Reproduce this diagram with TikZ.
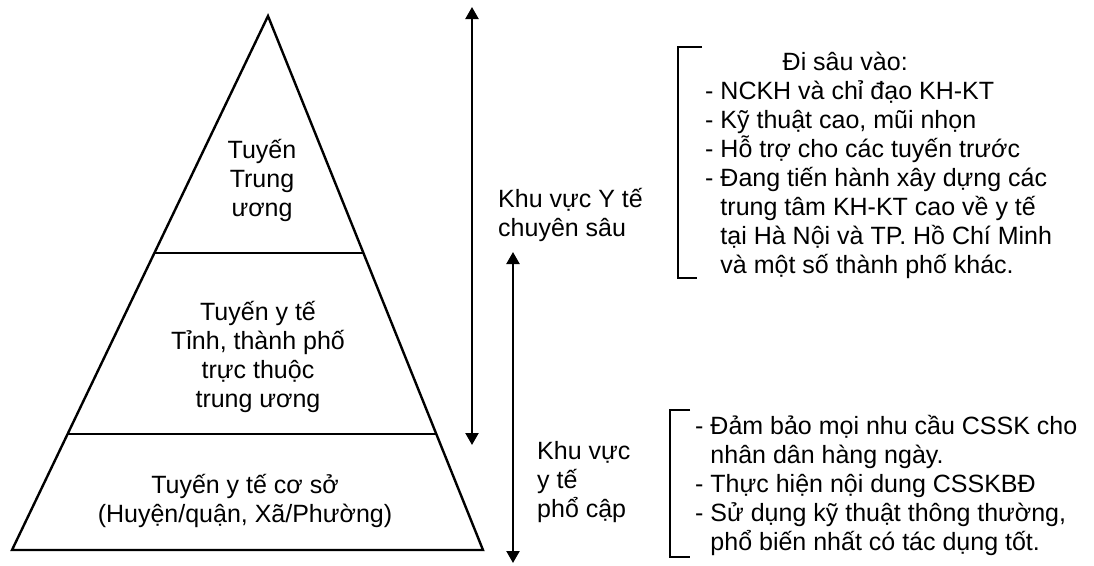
\documentclass[tikz,border=0pt]{standalone}
\usepackage{fontspec}
\setmainfont{Liberation Sans}
\usetikzlibrary{arrows.meta,calc}

\begin{document}
\begin{tikzpicture}[x=1pt,y=-1pt]
  \tikzset{txt/.style={font=\fontsize{25}{29}\selectfont,align=center,inner sep=0pt},
    lst/.style={txt,align=left,anchor=west},
    span/.style={{Triangle[length=12pt,width=13pt]}-{Triangle[length=12pt,width=13pt]},line width=2.2pt},
    brak/.style={line width=2pt}}
  \useasboundingbox (0,0) rectangle (1094,565);
  % the pyramid
  \coordinate (apex) at (268,16);
  \coordinate (bl) at (12,550);
  \coordinate (br) at (483,550);
  \draw[line width=2.4pt,line join=miter] (apex) -- (bl) -- (br) -- cycle;
  \foreach \f in {.4438,.7828}
    \draw[line width=2.4pt] ($(apex)!\f!(bl)$) -- ($(apex)!\f!(br)$);
  \node[txt] (tw) at (262,180) {Tuyến\\Trung\\ương};
  \node[txt] (tinh) at (258,357) {Tuyến y tế\\Tỉnh, thành phố\\trực thuộc\\trung ương};
  \node[txt] (coso) at (245,501) {Tuyến y tế cơ sở\\(Huyện/quận, Xã/Phường)};
  % the two ranges
  \coordinate (s1) at (472,7);  \coordinate (e1) at (472,445);
  \coordinate (s2) at (513,252); \coordinate (e2) at (513,563);
  \draw[span] (s1) -- (e1);
  \draw[span] (s2) -- (e2);
  \node[lst] (sau) at (498,215) {Khu vực Y tế\\chuyên sâu};
  \node[lst] (pho) at (537,482) {Khu vực\\y tế\\phổ cập};
  % brackets and lists
  \draw[brak] (702,47) -- (678,47) -- (678,278) -- (697,278);
  \draw[brak] (690,410) -- (670,410) -- (670,557) -- (690,557);
  \node[lst] (ds) at (705,165) {\hspace*{3.1em}Đi sâu vào:\\
    - NCKH và chỉ đạo KH-KT\\
    - Kỹ thuật cao, mũi nhọn\\
    - Hỗ trợ cho các tuyến trước\\
    - Đang tiến hành xây dựng các\\
    \hphantom{- }trung tâm KH-KT cao về y tế\\
    \hphantom{- }tại Hà Nội và TP. Hồ Chí Minh\\
    \hphantom{- }và một số thành phố khác.};
  \node[lst] (pc) at (695,485) {- Đảm bảo mọi nhu cầu CSSK cho\\
    \hphantom{- }nhân dân hàng ngày.\\
    - Thực hiện nội dung CSSKBĐ\\
    - Sử dụng kỹ thuật thông thường,\\
    \hphantom{- }phổ biến nhất có tác dụng tốt.};
\end{tikzpicture}
\end{document}
